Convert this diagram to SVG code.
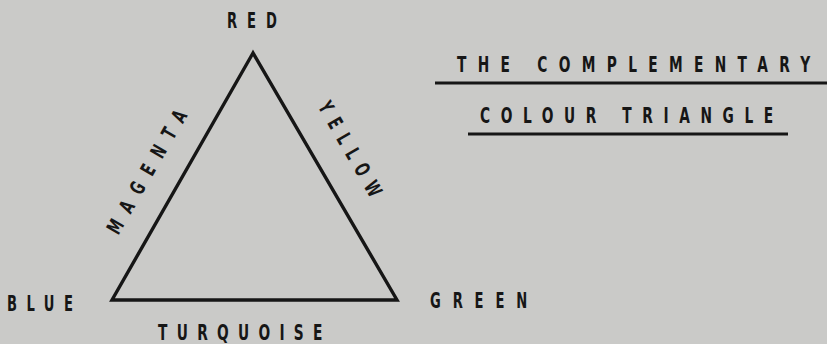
<svg xmlns="http://www.w3.org/2000/svg" width="827" height="344" viewBox="0 0 827 344">
<style>
.bg{fill:#cacac8}
text{font-family:"DejaVu Sans","Liberation Sans",sans-serif;font-weight:bold;font-size:20.5px;fill:#161616}
.big{font-size:21.5px}
.edge{fill:none;stroke:#161616;stroke-width:3.4;stroke-linejoin:miter;stroke-miterlimit:10}
.rule{stroke:#161616;stroke-width:3}
</style>
<rect class="bg" x="0" y="0" width="827" height="344"/>
<g id="connectors">
<polygon class="edge" points="253,53 112,300 397,300"/>
</g>
<g id="node-red"><text transform="translate(227,28) scale(0.64,1)" textLength="78" lengthAdjust="spacing">RED</text></g>
<g id="node-blue"><text transform="translate(7,311) scale(0.64,1)" textLength="103" lengthAdjust="spacing">BLUE</text></g>
<g id="node-green"><text transform="translate(430,308) scale(0.64,1)" textLength="152" lengthAdjust="spacing">GREEN</text></g>
<g id="label-turquoise"><text class="big" transform="translate(158,340) scale(0.64,1)" textLength="257" lengthAdjust="spacing">TURQUOISE</text></g>
<g id="label-magenta"><text transform="translate(153,175.5) rotate(-60) scale(0.64,1)" x="-108.5" y="0" textLength="217" lengthAdjust="spacing">MAGENTA</text></g>
<g id="label-yellow"><text transform="translate(344,152.5) rotate(60) scale(0.64,1)" x="-83" y="0" textLength="166" lengthAdjust="spacing">YELLOW</text></g>
<g id="title">
<text class="big" transform="translate(457,72) scale(0.64,1)" textLength="552" lengthAdjust="spacing">THE COMPLEMENTARY</text>
<line class="rule" x1="435" y1="83" x2="827" y2="83"/>
<text class="big" transform="translate(480,123) scale(0.64,1)" textLength="458" lengthAdjust="spacing">COLOUR TRIANGLE</text>
<line class="rule" x1="468" y1="134" x2="788" y2="134"/>
</g>
</svg>
